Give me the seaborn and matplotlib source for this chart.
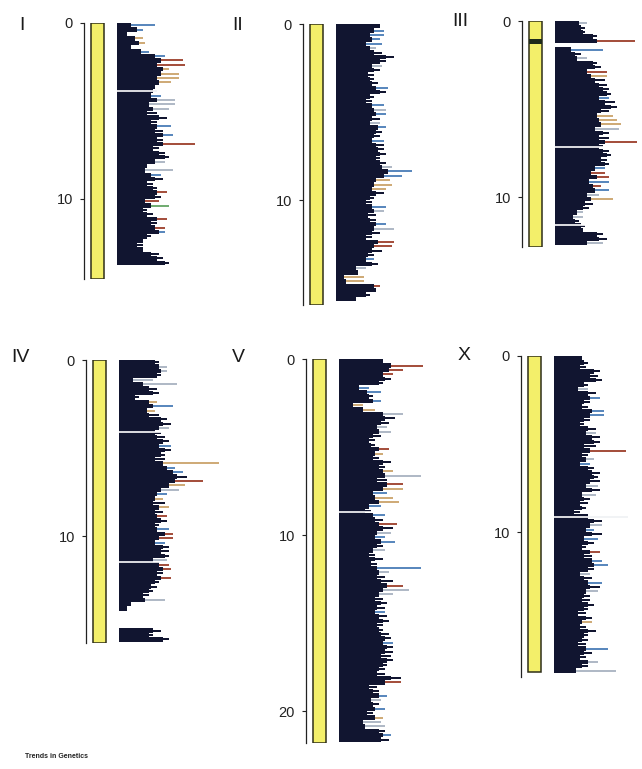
import numpy as np
import pandas as pd
import matplotlib
matplotlib.use("Agg")
import matplotlib.pyplot as plt
import seaborn as sns

# ---------------------------------------------------------------- data
BIN_MB = 0.25                       # width of one gene-density bin (Mb)
chromosomes = ["I", "II", "III", "IV", "V", "X"]
chrom_length_mb = {"I": 14.55, "II": 15.95, "III": 12.85, "IV": 16.1, "V": 21.8, "X": 17.95}
axis_length_mb = {"I": 14.55, "II": 15.95, "III": 12.85, "IV": 16.1, "V": 21.8, "X": 18.25}
tick_mb = {"I": [0, 10], "II": [0, 10], "III": [0, 10], "IV": [0, 10], "V": [0, 10, 20], "X": [0, 10]}

# per-bin counts: dark core, extra (coloured) extension, class of the extension
I_core = [14, 20, 10, 18, 22, 14, 24, 38, 44, 40,
          46, 44, 40, 42, 38, 36, 34, 40, 32, 36,
          30, 42, 34, 40, 38, 46, 40, 46, 36, 42,
          48, 38, 30, 28, 34, 38, 30, 36, 40, 38,
          28, 34, 26, 30, 40, 34, 38, 42, 30, 26,
          20, 26, 34, 40, 48]
I_extra = [24, 6, 0, 8, 6, 0, 8, 10, 22, 28,
           6, 18, 22, 12, 0, 4, 10, 18, 26, 16,
           10, 8, 6, 14, 8, 10, 6, 32, 6, 6,
           4, 10, 0, 28, 10, 8, 6, 4, 10, 6,
           14, 18, 4, 6, 10, 6, 10, 6, 4, 0,
           6, 0, 8, 6, 4]
I_class = "bbkttkbbrr ttttkgbggg kkkbkbkrkk kgkgbkkkrk rGkkrkrbkk kkkkk"

II_core = [44, 38, 34, 36, 30, 34, 38, 50, 44, 36,
           38, 32, 34, 36, 40, 44, 34, 30, 36, 38,
           40, 36, 34, 42, 40, 38, 36, 40, 42, 44,
           40, 44, 46, 52, 48, 40, 38, 36, 40, 34,
           30, 36, 38, 32, 34, 40, 38, 36, 30, 42,
           38, 36, 32, 30, 36, 20, 22, 8, 10, 38,
           40, 30, 20]
II_extra = [0, 10, 14, 8, 16, 6, 8, 8, 6, 10,
            6, 6, 4, 6, 12, 6, 4, 6, 12, 12,
            10, 8, 10, 8, 6, 6, 12, 8, 6, 6,
            4, 6, 10, 24, 18, 14, 18, 14, 8, 4,
            6, 14, 10, 8, 6, 10, 20, 8, 6, 16,
            18, 10, 6, 8, 6, 10, 0, 20, 18, 6,
            0, 4, 0]
II_class = "kbbbbgkkkg kkkkbkkkbg bkgbkkbkkk kkgbbtttkk kbgkkbgkkr rkkbkgkttr kkk"

III_core = [24, 26, 28, 38, 42, 0, 16, 20, 22, 38,
            40, 32, 36, 40, 44, 48, 52, 44, 50, 56,
            46, 42, 44, 46, 40, 48, 44, 50, 44, 48,
            52, 46, 50, 40, 36, 42, 34, 38, 40, 32,
            36, 30, 28, 22, 18, 20, 26, 28, 42, 44,
            32]
III_extra = [8, 4, 2, 4, 38, 0, 32, 6, 10, 4,
             6, 20, 16, 10, 8, 6, 4, 10, 10, 6,
             8, 16, 18, 20, 24, 6, 10, 32, 4, 6,
             4, 6, 4, 10, 14, 12, 20, 8, 14, 12,
             22, 8, 6, 6, 10, 4, 4, 0, 6, 8,
             16]
III_class = "gkkkrkbkgk krtkkkkbkk ktttgkkrkk kkkbrrbrbg tkkggkkkkk g"

IV_core = [36, 40, 42, 38, 14, 24, 30, 34, 16, 30,
           34, 28, 30, 42, 44, 40, 36, 38, 44, 40,
           46, 42, 36, 44, 48, 54, 58, 56, 50, 42,
           38, 36, 34, 40, 36, 38, 42, 36, 38, 46,
           40, 36, 44, 42, 46, 34, 40, 44, 38, 42,
           36, 32, 30, 24, 26, 12, 8, 0, 0, 0,
           0, 34, 30, 44]
IV_extra = [4, 8, 6, 4, 20, 34, 8, 6, 4, 8,
            20, 8, 10, 6, 8, 10, 6, 8, 6, 12,
            6, 4, 10, 56, 8, 10, 10, 28, 16, 18,
            10, 8, 12, 10, 8, 10, 6, 4, 12, 8,
            14, 10, 6, 8, 4, 14, 10, 8, 6, 10,
            4, 6, 4, 6, 20, 0, 0, 0, 0, 0,
            0, 8, 4, 6]
IV_class = "kggkggkkkt btkkkgkkkb kkktbbkrtg btktkrkkbr rbkkkgrrkr kkkkgkkkkk kkkk"

V_core = [44, 52, 50, 44, 46, 40, 20, 28, 30, 34,
          14, 24, 44, 46, 42, 38, 40, 34, 30, 32,
          40, 36, 34, 44, 40, 44, 46, 38, 48, 44,
          34, 36, 40, 30, 26, 34, 36, 40, 44, 38,
          36, 42, 38, 34, 30, 36, 32, 38, 40, 38,
          42, 48, 44, 40, 36, 42, 38, 36, 40, 44,
          38, 40, 42, 46, 44, 48, 46, 42, 48, 44,
          40, 38, 52, 46, 30, 34, 40, 32, 34, 36,
          28, 36, 24, 26, 40, 44, 42]
V_extra = [0, 32, 14, 10, 6, 4, 10, 14, 4, 8,
           10, 12, 20, 10, 8, 10, 12, 8, 6, 4,
           10, 8, 6, 8, 6, 10, 36, 10, 16, 20,
           14, 18, 20, 12, 6, 12, 8, 18, 10, 14,
           10, 14, 6, 12, 6, 8, 6, 44, 10, 8,
           12, 16, 26, 14, 8, 6, 8, 10, 8, 6,
           6, 4, 8, 6, 10, 6, 8, 10, 6, 4,
           6, 8, 10, 16, 8, 6, 8, 10, 6, 10,
           6, 8, 18, 20, 6, 8, 8]
V_class = "krrrkkbbkb ttgkkggkkk rtkkktgkrt bttbkbkrkg bbkgkkkbgk krggkkkbkk kkkkbkkkkk kkkrkkbgkb ktggkbk"

X_core = [28, 30, 26, 40, 36, 42, 30, 24, 34, 36,
          30, 28, 38, 36, 30, 26, 34, 32, 38, 40,
          30, 36, 28, 32, 26, 34, 38, 40, 36, 32,
          38, 28, 30, 26, 28, 20, 34, 40, 36, 32,
          38, 30, 34, 28, 36, 30, 38, 40, 34, 26,
          30, 34, 36, 32, 30, 28, 34, 30, 24, 32,
          28, 26, 34, 30, 28, 24, 32, 30, 26, 34,
          28, 22]
X_extra = [0, 4, 6, 6, 8, 6, 4, 10, 8, 10,
           6, 6, 12, 14, 6, 4, 8, 10, 8, 6,
           12, 36, 6, 8, 10, 6, 8, 4, 10, 12,
           8, 14, 6, 8, 4, 6, 40, 8, 12, 8,
           10, 14, 6, 4, 10, 8, 10, 14, 6, 10,
           8, 14, 10, 12, 6, 8, 6, 4, 8, 6,
           10, 6, 8, 4, 6, 8, 22, 8, 6, 10,
           6, 40]
X_class = "kkkkkkkgkb kkbbkkkgkk krkgbkkkkg kgkkkkgkgb kbkkrkbbkg kbkgkkkkkk tkkkkkbkkg kg"

# thin breaks across the density bars and the dark band on chromosome III
gaps_mb = {"I": [3.85], "II": [], "III": [7.15, 11.6], "IV": [4.1, 11.5], "V": [8.7], "X": [9.15]}
dark_band_mb = {"III": (1.05, 1.3)}

density = {
    "I": (I_core, I_extra, I_class),
    "II": (II_core, II_extra, II_class),
    "III": (III_core, III_extra, III_class),
    "IV": (IV_core, IV_extra, IV_class),
    "V": (V_core, V_extra, V_class),
    "X": (X_core, X_extra, X_class),
}

# ---------------------------------------------------------------- style
NAVY = "#111530"
class_colors = {"k": NAVY, "b": "#5a88bd", "t": "#cfab78", "r": "#a5503e",
                "g": "#b0b9c6", "G": "#72ad72"}
YELLOW = "#f3ef6a"

sns.set_theme(style="white")
plt.rcParams["font.family"] = ["Liberation Sans", "DejaVu Sans"]

W, H = 642, 769
PX_PER_MB = 17.6
fig = plt.figure(figsize=(W / 100, H / 100), dpi=100)
fig.patch.set_facecolor("white")

# panel placement (pixels): x of the scale line, y of 0 Mb, label anchor
layout = {
    "I":   dict(spine=84,  top=23,  label=(19, 26)),
    "II":  dict(spine=303, top=24,  label=(232, 26)),
    "III": dict(spine=522, top=21,  label=(452, 22)),
    "IV":  dict(spine=86,  top=360, label=(11, 357)),
    "V":   dict(spine=306, top=359, label=(232, 357)),
    "X":   dict(spine=521, top=356, label=(458, 356)),
}


def px_axes(x, y_top, w, h):
    return fig.add_axes([x / W, 1 - (y_top + h) / H, w / W, h / H])


for chrom in chromosomes:
    lay = layout[chrom]
    alen = axis_length_mb[chrom]
    h_px = alen * PX_PER_MB

    # scale line + chromosome body
    ax = px_axes(lay["spine"], lay["top"], 30, h_px)
    ax.set_xlim(0, 30)
    ax.set_ylim(alen, 0)
    ax.bar(13.5, chrom_length_mb[chrom], width=13, bottom=0, color=YELLOW,
           edgecolor="#2e2e18", linewidth=1.1)
    if chrom in dark_band_mb:
        b0, b1 = dark_band_mb[chrom]
        ax.bar(13.5, b1 - b0, width=13, bottom=b0, color="#1e2a1a", linewidth=0)
    for s in ["top", "right", "bottom"]:
        ax.spines[s].set_visible(False)
    ax.spines["left"].set_color("#222222")
    ax.spines["left"].set_linewidth(0.9)
    ax.set_xticks([])
    ax.set_yticks(tick_mb[chrom])
    ax.set_yticklabels([str(t) for t in tick_mb[chrom]])
    ax.tick_params(axis="y", length=3, width=0.8, pad=5, labelsize=10.5,
                   colors="#222222", left=True)
    ax.set_facecolor("none")

    fig.text(lay["label"][0] / W, 1 - lay["label"][1] / H, chrom,
             fontsize=14, ha="left", va="center", color="#1a1a1a")

    # gene-density bars
    core, extra, cls = density[chrom]
    cls = cls.replace(" ", "")
    n = len(core)
    df = pd.DataFrame({
        "pos": (np.arange(n) + 0.5) * BIN_MB,
        "core": core,
        "total": np.array(core) + np.array(extra),
        "cls": list(cls),
    })
    bx = px_axes(lay["spine"] + 33, lay["top"], 100, h_px)
    sns.barplot(data=df, x="total", y="pos", hue="cls", palette=class_colors,
                orient="y", native_scale=True, width=0.45, dodge=False,
                errorbar=None, legend=False, saturation=1, linewidth=0, ax=bx)
    sns.barplot(data=df, x="core", y="pos", orient="y", native_scale=True,
                width=1.0, color=NAVY, errorbar=None, saturation=1,
                linewidth=0, ax=bx)
    for g in gaps_mb[chrom]:
        bx.axhline(g, color="white", linewidth=1.2)
    bx.set_xlim(0, 100)
    bx.set_ylim(alen, 0)
    bx.axis("off")

fig.text(25 / W, 1 - 757 / H, "Trends in Genetics", fontsize=5, weight="bold",
         ha="left", va="center", color="#222222")

fig.savefig("out.png", dpi=100, facecolor="white")
